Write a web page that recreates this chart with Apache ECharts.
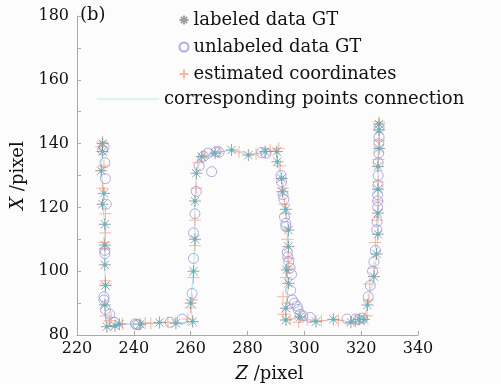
<!DOCTYPE html>
<html>
<head>
<meta charset="utf-8">
<script src="https://cdn.jsdelivr.net/npm/echarts@6/dist/echarts.min.js"></script>
<style>
html,body{margin:0;padding:0;background:#fcfcfc;}
#chart{width:501px;height:384px;}
</style>
</head>
<body>
<div id="chart"></div>
<script>
// labeled GT points (asterisk), path order
var labeledZ = [229,229,228.5,229.5,229,229.8,229.8,229.8,230,229.8,230.5,233.4,234.9,242.2,249,254.8,260.7,260,
    261,261.5,261.5,262,263.9,268.6,274.4,280.3,286.2,290.3,290.5,292,292.3,293.5,294.4,294.4,293.8,294.4,293.5,293.5,
    298.5,304.1,310.2,316.4,319.3,321,322.2,324.5,325.4,325.9,325.9,325.9,325.9,326.3,326.3,326.3];
var labeledX = [140,137.5,131.5,124.4,121,114.7,108.2,102,95.5,89.4,82.6,82.9,83.4,83.4,83.9,83.7,84.2,90,
    100,110,122,130.7,135.9,137,138,136.4,137.5,137.5,134.3,129.1,124.9,119.4,112.9,107.7,100.4,96.2,88.4,84.7,
    85.7,84.2,84.9,84,84.9,84.9,89.4,98.3,105.4,111.6,118.2,125.7,132.8,138.5,144.3,146.1];

// unlabeled GT points (circle)
var unlabeledZ = [229.5,229,229.8,230,230.3,229.8,229.8,229.5,229.5,230,231.5,233,240.5,241,241.5,252.8,257,
    260.5,261,261,261.5,262,263,264.5,266,267.4,269,270,285,286.5,
    291.8,292,292.5,292.8,293,293.5,293.5,294,294.2,294.5,295,295.5,295.2,295.8,296.5,297.5,297.8,298.5,299.5,302,315,318,319,320.5,
    322.5,323.2,324,324.5,325,325.5,325.6,325.8,325.8,325.8,325.9,326,326,326.2,326.2,326.3,326.3];
var unlabeledX = [139,138,134,129,121,106.5,105.5,92,91,88,86.5,84,83.5,83.3,83.2,84,85,
    93,104,112,118,125,133,136,137,131.2,137.5,137.3,137.2,137,
    130,128,124,122.5,117,115,114,106,104.5,103,101,99,94,91,90,89,88,86.5,86,85.5,85,85,84.8,85.3,
    92,95.5,100,103,106.5,113,115.5,120,122,124,127,130,134,137,140,142,145];

// estimated coordinates (plus)
var estZ = [229,228.5,229.5,229,230,230,229.5,229.8,230,230,230,231.5,232,236,244,246,252,259,260,260.5,261,261.5,261.5,262,262.5,
    265,270,277,283,288,291,291.5,292.5,293,293.5,294,294.5,294.5,293.5,292.5,294,292.5,295,298,301,306,312,318,
    322,322.5,323,324.5,325,325.5,326,326,326,326.3,326.3];
var estX = [140.5,139,133,126,118,112,109,107,97,96,86,84.5,85.5,83.5,83.8,83.6,84,85,88.5,91,98,108,116,126,134,
    136.3,137.5,137.4,136.8,138,138.5,133,126,121,118,110,104,101,98,92,90,86.5,85,84,84.7,84.5,84.6,84.3,
    86,91,96,101,109,116,122,128,135,141,146.8];

var xTicks = {min: 220, max: 340, step: 20};
var yTicks = {min: 80, max: 180, step: 10, labelStep: 20};

function pairs(zs, xs) {
    return zs.map(function (z, i) { return [z, xs[i]]; });
}

var serif = 'DejaVu Serif';
var asterisk = 'path://M5,0L5,10M0,5L10,5M1.5,1.5L8.5,8.5M1.5,8.5L8.5,1.5';
var plus = 'path://M5,0L5,10M0,5L10,5';

var myChart = echarts.init(document.getElementById('chart'));
var option = {
    backgroundColor: '#fcfcfc',
    animation: false,
    grid: {left: 77, right: 83, top: 16, bottom: 49, containLabel: false, outerBoundsMode: 'none'},
    graphic: [{
        type: 'text', left: 80, top: 6,
        style: {text: '(b)', fontFamily: serif, fontSize: 18, fill: '#111'}
    }],
    legend: [{
        data: ['labeled data GT', 'unlabeled data GT', 'estimated coordinates'],
        orient: 'vertical', left: 172, top: 6, itemWidth: 9, itemHeight: 9, itemGap: 9,
        textStyle: {fontFamily: serif, fontSize: 18, color: '#111'}
    }, {
        data: [{name: 'corresponding points connection', icon: 'rect'}],
        orient: 'vertical', left: 92, top: 85, itemWidth: 62, itemHeight: 1,
        itemStyle: {color: '#c4e6f0'},
        textStyle: {fontFamily: serif, fontSize: 18, color: '#111'}
    }],
    xAxis: {
        type: 'value', min: xTicks.min, max: xTicks.max, interval: xTicks.step,
        name: '{i|Z} /pixel', nameLocation: 'middle', nameGap: 30,
        nameTextStyle: {fontFamily: serif, fontSize: 18, color: '#111', padding: [0, 0, 0, 44],
            rich: {i: {fontFamily: serif, fontStyle: 'italic', fontSize: 18, color: '#111'}}},
        axisLine: {lineStyle: {color: '#aaa'}},
        axisTick: {inside: true, length: 4, lineStyle: {color: '#aaa'}},
        axisLabel: {fontFamily: serif, fontSize: 16, color: '#111', margin: 6},
        splitLine: {show: false}
    },
    yAxis: {
        type: 'value', min: yTicks.min, max: yTicks.max, interval: yTicks.step,
        name: '{i|X} /pixel', nameLocation: 'middle', nameGap: 50, nameRotate: 90,
        nameTextStyle: {fontFamily: serif, fontSize: 18, color: '#111',
            rich: {i: {fontFamily: serif, fontStyle: 'italic', fontSize: 18, color: '#111'}}},
        axisLine: {show: true, lineStyle: {color: '#aaa'}},
        axisTick: {inside: true, length: 4, lineStyle: {color: '#aaa'}},
        axisLabel: {fontFamily: serif, fontSize: 16, color: '#111', margin: 8,
            formatter: function (v) { return v % yTicks.labelStep === 0 ? v : ''; }},
        splitLine: {show: false}
    },
    series: [{
        name: 'corresponding points connection',
        type: 'line', data: pairs(labeledZ, labeledX), showSymbol: false, symbol: 'none',
        lineStyle: {color: '#b4e4ee', width: 1}, itemStyle: {color: '#b4e4ee'}, z: 1
    }, {
        name: 'estimated coordinates',
        type: 'scatter', data: pairs(estZ, estX), symbol: plus, symbolSize: 12,
        itemStyle: {color: 'none', borderColor: '#f4a68c', borderWidth: 1}, z: 2
    }, {
        name: 'unlabeled data GT',
        type: 'scatter', data: pairs(unlabeledZ, unlabeledX), symbol: 'circle', symbolSize: 10,
        itemStyle: {color: 'none', borderColor: '#9a9ad6', borderWidth: 1}, z: 3
    }, {
        name: 'labeled data GT',
        type: 'scatter', data: pairs(labeledZ, labeledX), symbol: asterisk, symbolSize: 12,
        itemStyle: {color: 'none', borderColor: '#8a8a8a', borderWidth: 1}, z: 4
    }, {
        name: 'labeled center',
        type: 'scatter', data: pairs(labeledZ, labeledX), symbol: 'circle', symbolSize: 4,
        itemStyle: {color: '#4cc0d0'}, z: 5
    }]
};
myChart.setOption(option);
</script>
</body>
</html>
